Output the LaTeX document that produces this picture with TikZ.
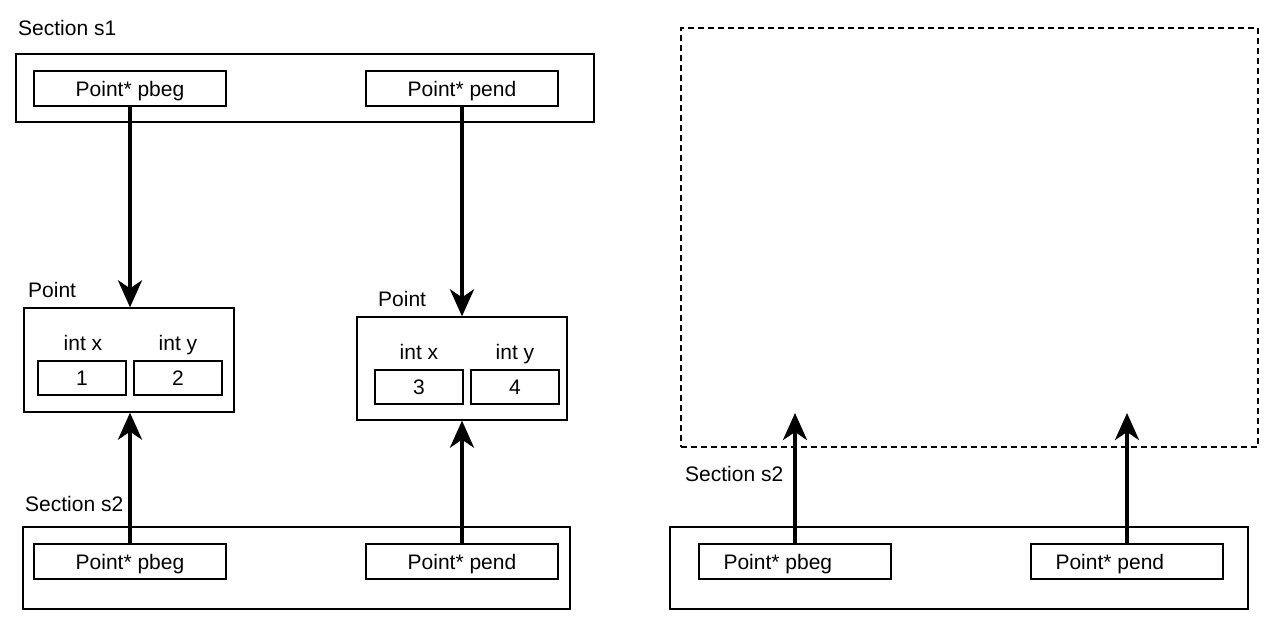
\documentclass[tikz,border=0pt]{standalone}
\usepackage{fontspec}
\setmainfont{Liberation Sans}
\usetikzlibrary{arrows.meta}
\begin{document}
\begin{tikzpicture}[x=1pt,y=-1pt,
  every node/.style={font=\fontsize{21}{25}\selectfont, text height=15pt, text depth=0pt},
  frame/.style={draw, line width=1.3pt, inner sep=0pt},
  field/.style={frame, minimum width=192, minimum height=35},
  cell/.style={frame, minimum width=88, minimum height=34},
  caption/.style={anchor=west, inner sep=0pt},
  ptr/.style={line width=4pt, -{Stealth[length=27pt, width=24pt, inset=8pt]}},
  shadowbox/.style={draw, line width=1.3pt, dash pattern=on 6pt off 4pt}]
\useasboundingbox (0,0) rectangle (1266,637);

% Section s1 with its two pointers
\node[caption] (s1lab) at (18,28) {Section s1};
\node[frame, minimum width=578, minimum height=68] (s1) at (305,88) {};
\node[field] (s1beg) at (130,88.5) {Point* pbeg};
\node[field] (s1end) at (462,88.5) {Point* pend};

% the two Point objects
\node[caption] (p1lab) at (28,290) {Point};
\node[frame, minimum width=210, minimum height=104] (p1) at (129,360) {};
\node (p1xl) at (83,343) {int x};
\node (p1yl) at (178,343) {int y};
\node[cell] (p1x) at (82,378) {1};
\node[cell] (p1y) at (178,378) {2};

\node[caption] (p2lab) at (378,299) {Point};
\node[frame, minimum width=210, minimum height=103] (p2) at (462,368.5) {};
\node (p2xl) at (419,352) {int x};
\node (p2yl) at (515,352) {int y};
\node[cell] (p2x) at (419,387) {3};
\node[cell] (p2y) at (515,387) {4};

% Section s2 sharing the same Points
\node[caption] (s2lab) at (25,504) {Section s2};
\node[frame, minimum width=547, minimum height=82] (s2) at (296.5,568) {};
\node[field] (s2beg) at (130,561.5) {Point* pbeg};
\node[field] (s2end) at (462,561.5) {Point* pend};

\draw[ptr] (s1beg.south) -- (s1beg.south |- p1.north);
\draw[ptr] (s1end.south) -- (s1end.south |- p2.north);
\draw[ptr] (s2beg.north) -- (s2beg.north |- p1.south);
\draw[ptr] (s2end.north) -- (s2end.north |- p2.south);

% after s1 is gone: dangling pointers
\node[shadowbox, minimum width=577, minimum height=419, inner sep=0pt] (gone) at (969.5,237.5) {};
\node[caption] (r2lab) at (685,474) {Section s2};
\node[frame, minimum width=578, minimum height=82] (r2) at (959,568) {};
\node[field] (r2beg) at (795,561.5) {};
\node[caption] at ([xshift=25pt]r2beg.west) {Point* pbeg};
\node[field] (r2end) at (1127,561.5) {};
\node[caption] at ([xshift=25pt]r2end.west) {Point* pend};
\coordinate (d1) at (795,413);
\coordinate (d2) at (1127,413);
\draw[ptr] (r2beg.north) -- (d1);
\draw[ptr] (r2end.north) -- (d2);
\end{tikzpicture}
\end{document}
